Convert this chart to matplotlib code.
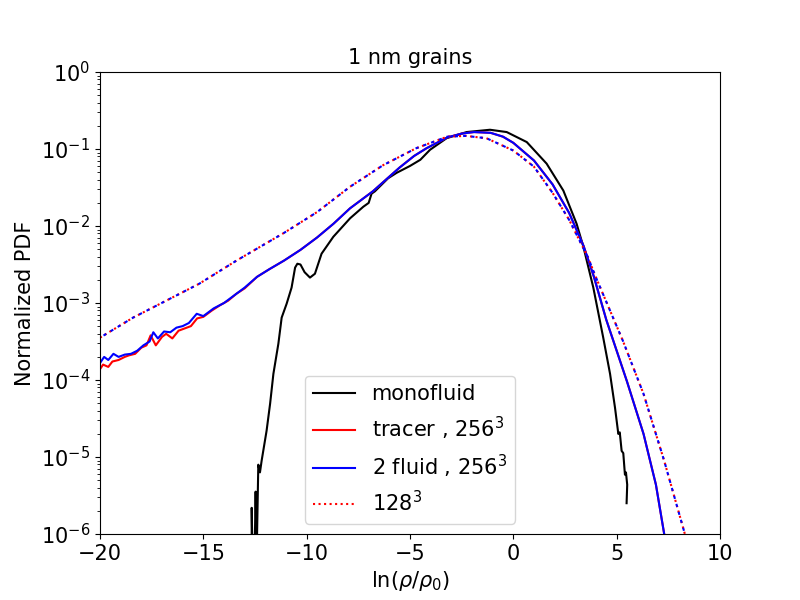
import numpy as np
import matplotlib
matplotlib.use("Agg")
import matplotlib.pyplot as plt

# values, stored as log10(PDF)
mono_x = [-12.66, -12.66, -12.62, -12.52, -12.47, -12.42, -12.34, -12.26, -12.18,
          -12.10, -11.94, -11.77, -11.61, -11.37, -11.21, -10.97, -10.73, -10.56,
          -10.45, -10.30, -10.10, -9.84, -9.60, -9.28, -8.71, -7.90, -7.26, -7.00,
          -6.86, -6.70, -6.06, -5.65, -5.00, -4.50, -4.03, -3.23, -2.26, -1.13,
          -0.32, 0.65, 1.61, 2.42, 3.06, 3.39, 3.87, 4.35, 4.68, 4.92, 5.08, 5.15,
          5.24, 5.32, 5.40, 5.45, 5.51, 5.48]
mono_log = [-6.3, -5.66, -6.3, -6.3, -5.45, -6.3, -5.10, -5.20, -5.05,
            -4.92, -4.66, -4.31, -3.92, -3.53, -3.19, -3.01, -2.80, -2.54,
            -2.49, -2.50, -2.60, -2.67, -2.62, -2.36, -2.14, -1.90, -1.75, -1.70,
            -1.58, -1.55, -1.38, -1.31, -1.22, -1.14, -1.01, -0.86, -0.78, -0.75,
            -0.78, -0.91, -1.19, -1.54, -1.97, -2.27, -2.80, -3.45, -3.92, -4.36, -4.70, -4.68,
            -4.92, -4.95, -5.23, -5.20, -5.36, -5.60]

tail_x = [-12.4, -11.8, -11.1, -10.3, -9.5, -8.7, -7.9, -6.8, -5.5, -4.8, -4.2,
          -3.2, -2.5, -1.9, -1.1, -0.5, 0.0, 1.0, 1.9, 2.7, 3.4, 3.9, 4.5, 5.5,
          6.3, 6.9, 7.3, 7.4]
tail_log = [-2.66, -2.56, -2.45, -2.31, -2.15, -1.97, -1.77, -1.55, -1.24, -1.09, -0.99,
            -0.85, -0.80, -0.78, -0.79, -0.84, -0.92, -1.15, -1.46, -1.83, -2.26, -2.66, -3.22, -4.02,
            -4.70, -5.36, -6.0, -6.2]

tracer_x = [-20.0, -19.85, -19.6, -19.4, -19.1, -18.8, -18.6, -18.3, -18.0, -17.75,
            -17.55, -17.3, -17.0, -16.8, -16.5, -16.2, -15.9, -15.6, -15.3, -15.0,
            -14.6, -14.2, -13.8, -13.4, -13.0] + tail_x
tracer_log = [-3.86, -3.80, -3.83, -3.76, -3.74, -3.70, -3.68, -3.66, -3.58, -3.55,
              -3.42, -3.55, -3.44, -3.40, -3.46, -3.36, -3.33, -3.30, -3.20, -3.18,
              -3.10, -3.03, -2.97, -2.88, -2.81] + tail_log

twofluid_x = [-20.0, -19.8, -19.6, -19.35, -19.1, -18.8, -18.5, -18.2, -17.9, -17.6,
              -17.42, -17.2, -16.9, -16.6, -16.3, -16.0, -15.7, -15.32, -15.0, -14.5,
              -14.0, -13.55, -13.0] + tail_x
twofluid_log = [-3.78, -3.70, -3.74, -3.66, -3.70, -3.67, -3.66, -3.62, -3.55, -3.50,
                -3.38, -3.46, -3.37, -3.38, -3.32, -3.30, -3.26, -3.14, -3.17, -3.07,
                -3.00, -2.91, -2.80] + tail_log

low_x = [-20.0, -18.4, -16.8, -15.2, -13.4, -12.7, -11.1, -9.5, -7.9, -6.3, -4.7,
         -3.2, -2.3, -1.3, 0.0, 1.0, 1.9, 2.7, 3.6, 4.0, 5.3, 6.3, 7.3, 8.3, 8.4]
low_log = [-3.45, -3.19, -2.97, -2.75, -2.45, -2.34, -2.09, -1.82, -1.49, -1.21, -0.99,
           -0.84, -0.83, -0.86, -1.02, -1.23, -1.57, -1.92, -2.40, -2.67, -3.49, -4.18, -5.05, -6.0, -6.2]

fig, ax = plt.subplots(figsize=(8, 6), dpi=100)

ax.plot(mono_x, np.power(10.0, mono_log), color="black", label="monofluid")
ax.plot(tracer_x, np.power(10.0, tracer_log), color="red", label=r"tracer , $256^3$")
ax.plot(twofluid_x, np.power(10.0, twofluid_log), color="blue", label=r"2 fluid , $256^3$")
ax.plot(low_x, np.power(10.0, low_log), color="red", linestyle=":", label=r"$128^3$")
ax.plot(low_x, np.power(10.0, low_log), color="blue", linestyle=(2.0, (1.5, 2.475)))

ax.set_yscale("log")
ax.set_xlim(-20, 10)
ax.set_ylim(1e-6, 1)
ax.set_title("1 nm grains", fontsize=15)
ax.set_xlabel(r"ln($\rho/\rho_0$)", fontsize=15)
ax.set_ylabel("Normalized PDF", fontsize=15)
ax.tick_params(labelsize=15)
ax.legend(loc="lower center", fontsize=15)

fig.savefig("out.png", dpi=100)
